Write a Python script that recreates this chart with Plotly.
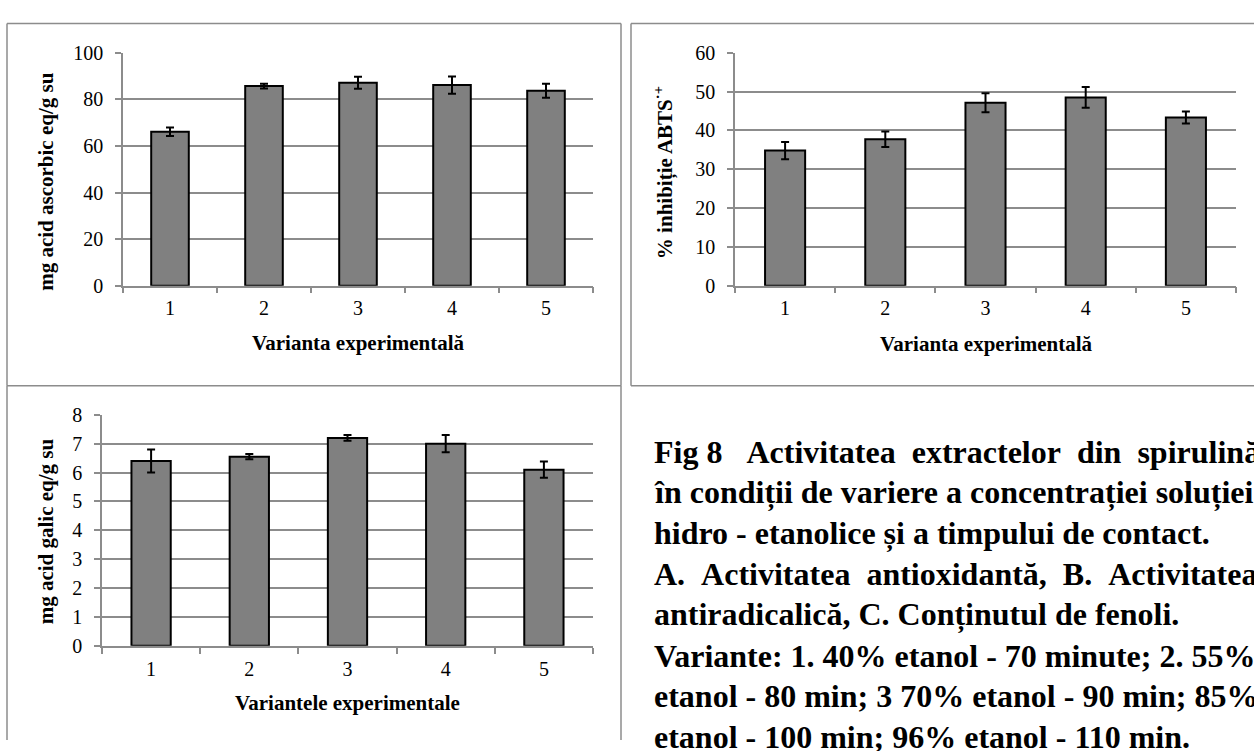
import plotly.graph_objects as go

W, H = 1254, 751

def fx(x):
    return x / W

def fy(y):
    return 1 - y / H

# ---------------- data ----------------
categories = ["1", "2", "3", "4", "5"]

antiox_values = [66.1, 85.7, 87.1, 86.1, 83.7]
antiox_err = [1.8, 1.0, 2.6, 3.7, 3.0]

abts_values = [34.8, 37.7, 47.1, 48.5, 43.3]
abts_err = [2.2, 2.0, 2.45, 2.65, 1.55]

phenol_values = [6.4, 6.55, 7.2, 7.0, 6.1]
phenol_err = [0.4, 0.09, 0.1, 0.3, 0.28]

title_a_y = "mg acid ascorbic eq/g su"
title_b_y = "% inhibiție ABTS<sup>·+</sup>"
title_c_y = "mg acid galic eq/g su"
title_ab_x = "Varianta experimentală"
title_c_x = "Variantele experimentale"

caption_lines = [
    "Fig\u00a08\u00a0\u00a0\u00a0Activitatea\u00a0\u00a0extractelor\u00a0\u00a0din\u00a0\u00a0spirulină",
    "în condiții de variere a concentrației soluției",
    "hidro - etanolice și a timpului de contact.",
    "A.\u00a0\u00a0Activitatea\u00a0\u00a0antioxidantă,\u00a0\u00a0B.\u00a0\u00a0Activitatea",
    "antiradicalică, C. Conținutul de fenoli.",
    "Variante: 1. 40% etanol - 70 minute; 2. 55%",
    "etanol - 80 min; 3 70% etanol - 90 min; 85%",
    "etanol - 100 min; 96% etanol - 110 min.",
]

# ---------------- style ----------------
FONT = "Liberation Serif"
GRID = "#8c8c8c"
BAR = "#808080"

fig = go.Figure()

panels = [
    dict(x="x", y="y", vals=antiox_values, err=antiox_err),
    dict(x="x2", y="y2", vals=abts_values, err=abts_err),
    dict(x="x3", y="y3", vals=phenol_values, err=phenol_err),
]
for p in panels:
    fig.add_trace(go.Bar(
        x=categories, y=p["vals"], xaxis=p["x"], yaxis=p["y"],
        marker=dict(color=BAR, line=dict(color="black", width=2)),
        error_y=dict(type="data", array=p["err"], color="black",
                     thickness=2, width=4, visible=True),
        hoverinfo="skip",
    ))

def xaxis_style(x0, x1, anchor):
    return dict(
        domain=[fx(x0), fx(x1)], anchor=anchor, type="category",
        showline=True, linecolor=GRID, linewidth=1.5,
        showgrid=False, ticks="outside", tickson="boundaries",
        ticklen=6, tickcolor=GRID, tickwidth=1.5,
        tickfont=dict(family=FONT, size=20, color="black"),
        ticklabelstandoff=4, fixedrange=True,
    )

def yaxis_style(y_top, y_bot, anchor, rng, dtick):
    return dict(
        domain=[fy(y_bot), fy(y_top)], anchor=anchor,
        range=rng, dtick=dtick, tick0=0,
        showline=True, linecolor=GRID, linewidth=1.5,
        showgrid=True, gridcolor=GRID, gridwidth=1.5,
        zeroline=False,
        ticks="outside", ticklen=6, tickcolor=GRID, tickwidth=1.5,
        tickfont=dict(family=FONT, size=20, color="black"),
        ticklabelstandoff=8, fixedrange=True,
    )

fig.update_layout(
    width=W, height=H,
    margin=dict(l=0, r=0, t=0, b=0),
    paper_bgcolor="white", plot_bgcolor="white",
    showlegend=False, bargap=0.6,
    xaxis=xaxis_style(123, 593, "y"),
    yaxis=yaxis_style(43, 283, "x", [0, 100], 20),
    xaxis2=xaxis_style(735, 1236, "y2"),
    yaxis2=yaxis_style(43, 283, "x2", [0, 60], 10),
    xaxis3=xaxis_style(102, 593, "y3"),
    yaxis3=yaxis_style(416, 654, "x3", [0, 8], 1),
)

# panel borders (drawn as separate edges; some run off the page)
border = dict(color=GRID, width=1.5)

def edge(x0, y0, x1, y1):
    fig.add_shape(type="line", xref="paper", yref="paper",
                  x0=fx(x0), y0=fy(y0), x1=fx(x1), y1=fy(y1), line=border)

# panel A
edge(7, 13, 621, 13)
edge(7, 13, 7, 386)
edge(621, 13, 621, 386)
edge(7, 386, 621, 386)
# panel B
edge(631, 13, 1254, 13)
edge(631, 13, 631, 386)
edge(631, 386, 1254, 386)
# panel C
edge(7, 386, 7, 751)
edge(621, 386, 621, 751)

tfont = dict(family=FONT, size=21, color="black", weight="bold")

def ann(text, x, y, angle=0, font=tfont, xanchor="center"):
    fig.add_annotation(text=text, x=fx(x), y=fy(y), xref="paper", yref="paper",
                       showarrow=False, textangle=angle, font=font,
                       xanchor=xanchor, yanchor="middle")

ann(title_a_y, 46, 176, angle=-90)
ann(title_ab_x, 358, 342)
ann(title_b_y, 664, 166, angle=-90)
ann(title_ab_x, 986, 343)
ann(title_c_y, 46, 536, angle=-90)
ann(title_c_x, 347, 713)

cfont = dict(family=FONT, size=32, color="black", weight="bold")
for i, line in enumerate(caption_lines):
    ann(line, 652, 454 + i * 42, font=cfont, xanchor="left")

fig.write_html("out.html")
